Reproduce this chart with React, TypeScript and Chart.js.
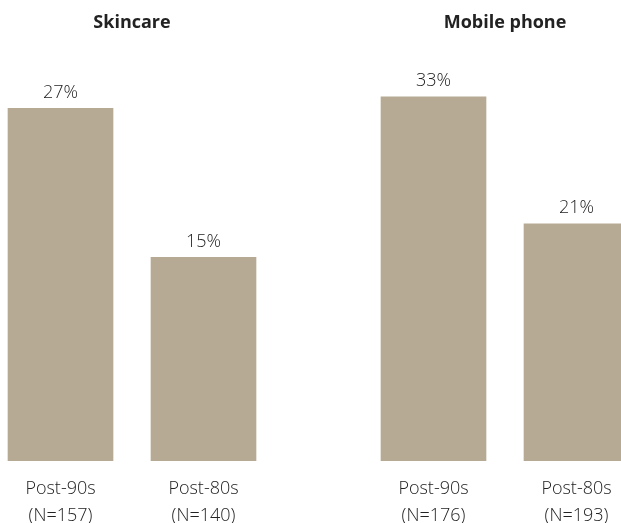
import React, { useEffect, useRef } from 'react';
import { Chart, registerables } from 'chart.js';

Chart.register(...registerables);

// ---- data ----
const skincareTitle = 'Skincare';
const skincareLabels = [['Post-90s', '(N=157)'], ['Post-80s', '(N=140)']];
const skincareValues = [27, 15];

const mobileTitle = 'Mobile phone';
const mobileLabels = [['Post-90s', '(N=176)'], ['Post-80s', '(N=193)']];
const mobileValues = [33, 21];

const axisMin = -1.4;
const skincareMax = 31;
const mobileMax = 36.6;

const BAR_COLOR = '#b7aa94';
const TEXT_COLOR = '#222222';
const FONT = '"Open Sans", "Noto Sans", sans-serif';

const valueLabels = {
  id: 'valueLabels',
  afterDatasetsDraw(chart: any) {
    const ctx = chart.ctx;
    const meta = chart.getDatasetMeta(0);
    const data = chart.data.datasets[0].data as number[];
    ctx.save();
    ctx.font = `300 18px ${FONT}`;
    ctx.fillStyle = TEXT_COLOR;
    ctx.textAlign = 'center';
    ctx.textBaseline = 'alphabetic';
    meta.data.forEach((bar: any, i: number) => {
      ctx.fillText(`${data[i]}%`, bar.x, bar.y - 10.5);
    });
    ctx.restore();
  },
};

function Panel(props: { title: string; labels: string[][]; values: number[]; max: number; left: number }) {
  const ref = useRef<HTMLCanvasElement>(null);
  useEffect(() => {
    const chart = new Chart(ref.current!, {
      type: 'bar',
      data: {
        labels: props.labels,
        datasets: [
          {
            data: props.values,
            backgroundColor: BAR_COLOR,
            borderWidth: 0,
            barThickness: 105,
            base: axisMin,
          } as any,
        ],
      },
      options: {
        animation: false,
        responsive: false,
        maintainAspectRatio: false,
        layout: { padding: 0 },
        plugins: {
          legend: { display: false },
          tooltip: { enabled: false },
          title: {
            display: true,
            text: props.title,
            color: '#222222',
            font: { family: FONT, size: 18, weight: 'bold', lineHeight: 1.2 },
            padding: { top: 12, bottom: 25.2 },
          },
        },
        scales: {
          x: {
            offset: true,
            grid: { display: false, drawTicks: false },
            border: { display: false },
            ticks: {
              color: TEXT_COLOR,
              font: { family: FONT, size: 18, weight: '300', lineHeight: 1.48 },
              padding: 15,
              maxRotation: 0,
              autoSkip: false,
            },
            afterFit: (s: any) => {
              s.height = 62;
            },
          },
          y: {
            display: false,
            min: axisMin,
            max: props.max,
          },
        },
      },
      plugins: [valueLabels],
    });
    return () => chart.destroy();
  }, []);
  return (
    <div style={{ position: 'absolute', left: props.left, top: 0, width: 286, height: 523 }}>
      <canvas ref={ref} width={286} height={523} style={{ width: 286, height: 523, display: 'block' }} />
    </div>
  );
}

export default function App() {
  return (
    <div
      style={{
        position: 'fixed',
        left: 0,
        top: 0,
        width: 621,
        height: 523,
        overflow: 'hidden',
        background: '#ffffff',
      }}
    >
      <Panel title={skincareTitle} labels={skincareLabels} values={skincareValues} max={skincareMax} left={-11} />
      <Panel title={mobileTitle} labels={mobileLabels} values={mobileValues} max={mobileMax} left={362} />
    </div>
  );
}
